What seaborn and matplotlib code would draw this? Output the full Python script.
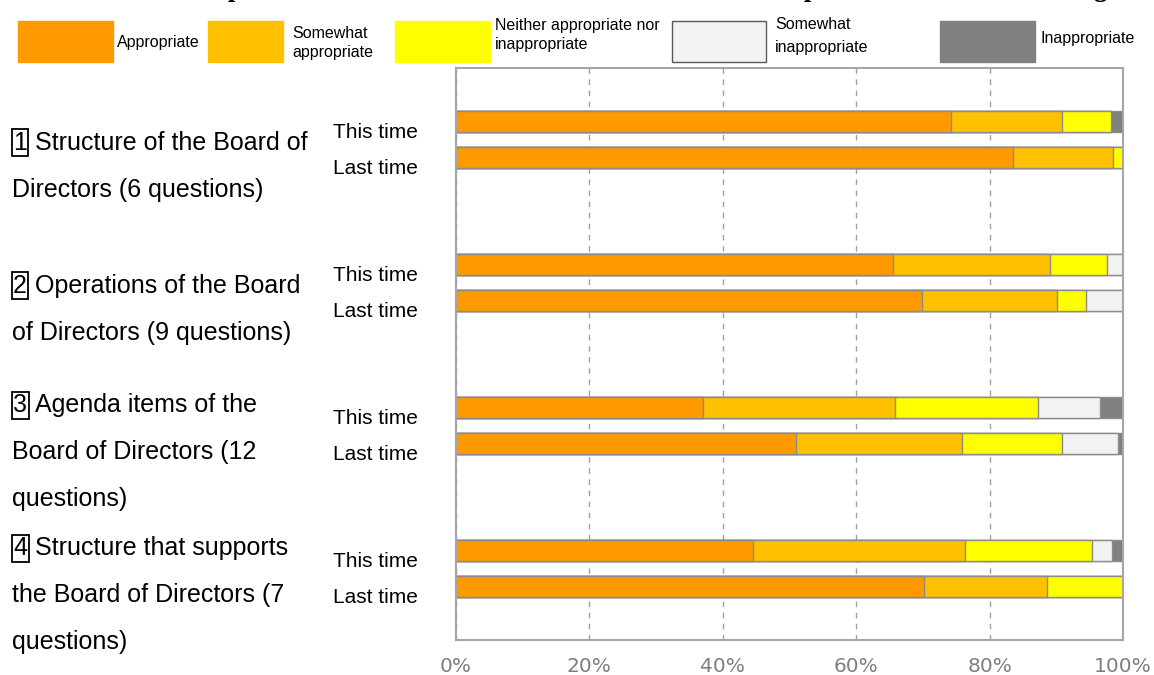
import matplotlib
matplotlib.use("Agg")
import matplotlib.pyplot as plt
from matplotlib import font_manager, transforms
from matplotlib.patches import Rectangle
import numpy as np
import pandas as pd
import seaborn as sns

# ---------------- data ----------------
section_numbers = ["1", "2", "3", "4"]
section_lines = [
    ["Structure of the Board of", "Directors (6 questions)"],
    ["Operations of the Board", "of Directors (9 questions)"],
    ["Agenda items of the", "Board of Directors (12", "questions)"],
    ["Structure that supports", "the Board of Directors (7", "questions)"],
]
periods = ["This time", "Last time"]
response_levels = [
    "Appropriate",
    "Somewhat appropriate",
    "Neither appropriate nor inappropriate",
    "Somewhat inappropriate",
    "Inappropriate",
]
legend_labels = [
    "Appropriate",
    "Somewhat\nappropriate",
    "Neither appropriate nor\ninappropriate",
    "Somewhat\ninappropriate",
    "Inappropriate",
]
# shares (%) per bar, order: 1 this, 1 last, 2 this, 2 last, 3 this, 3 last, 4 this, 4 last
appropriate = [74.2, 83.5, 65.5, 69.8, 37.1, 50.9, 44.6, 70.1]
somewhat_appropriate = [16.7, 15.0, 23.6, 20.3, 28.7, 25.0, 31.7, 18.5]
neither = [7.3, 1.5, 8.5, 4.4, 21.4, 15.0, 19.1, 11.4]
somewhat_inappropriate = [0.0, 0.0, 2.4, 5.5, 9.3, 8.4, 3.0, 0.0]
inappropriate = [1.8, 0.0, 0.0, 0.0, 3.5, 0.7, 1.6, 0.0]
x_ticks = [0, 20, 40, 60, 80, 100]
x_tick_labels = ["0%", "20%", "40%", "60%", "80%", "100%"]
title_text = "[Comparison of evaluation results with last time in four parts of the board meetings]"

level_colors = ["#FF9900", "#FFC000", "#FFFF00", "#F2F2F2", "#808080"]

# ---------------- style ----------------
sns.set_style("white")
installed = {f.name for f in font_manager.fontManager.ttflist}
sans = "Liberation Sans" if "Liberation Sans" in installed else "DejaVu Sans"
if "Liberation Sans Narrow" in installed:
    legend_font, legend_size = "Liberation Sans Narrow", 14
elif "DejaVu Sans Condensed" in installed:
    legend_font, legend_size = "DejaVu Sans Condensed", 11.5
else:
    legend_font, legend_size = sans, 11.5
plt.rcParams["font.family"] = [sans, "DejaVu Sans"]
plt.rcParams["text.color"] = "black"

W, H = 1154, 675
fig = plt.figure(figsize=(W / 100, H / 100), dpi=100)
ax = fig.add_axes([456 / W, 35 / H, 667 / W, 572 / H])

# each section: spacer, this time, last time, spacer
order = []
for s in section_numbers:
    order += [f"{s}-top", f"{s}-{periods[0]}", f"{s}-{periods[1]}", f"{s}-bottom"]
bar_rows = [f"{s}-{p}" for s in section_numbers for p in periods]

shares = np.array([appropriate, somewhat_appropriate, neither,
                   somewhat_inappropriate, inappropriate])
cum = shares.cumsum(axis=0)
records = []
for li, level in enumerate(response_levels):
    for ri, row in enumerate(bar_rows):
        records.append({"row": row, "level": level, "end": cum[li, ri]})
df = pd.DataFrame(records)

# stacked bars: draw cumulative totals from the outermost level inwards
for li in reversed(range(len(response_levels))):
    sub = df[df["level"] == response_levels[li]]
    sns.barplot(data=sub, x="end", y="row", order=order, orient="h",
                color=level_colors[li], saturation=1, width=0.59,
                edgecolor="#8c8c8c", linewidth=1.0, errorbar=None, ax=ax)

ax.set_xlim(0, 100)
ax.set_ylim(len(order) - 0.5, -0.5)
ax.set_xticks(x_ticks, x_tick_labels)
ax.set_yticks([])
ax.set_xlabel("")
ax.set_ylabel("")
ax.tick_params(axis="x", length=0, pad=12, labelsize=14.5, labelcolor="#7f7f7f")
for lab in ax.get_xticklabels():
    lab.set_fontfamily("DejaVu Sans")
ax.set_axisbelow(True)
ax.grid(axis="x", linestyle=(0, (4, 4)), color="#a0a0a0", linewidth=1)
for sp in ax.spines.values():
    sp.set_visible(True)
    sp.set_color("#a6a6a6")
    sp.set_linewidth(1.5)

# ---------------- row and section labels ----------------
fig_x_data_y = transforms.blended_transform_factory(fig.transFigure, ax.transData)
for si, s in enumerate(section_numbers):
    this_pos = order.index(f"{s}-{periods[0]}")
    for pi, p in enumerate(periods):
        fig.text(375 / W, this_pos + pi + 0.3, p, transform=fig_x_data_y,
                 ha="center", va="center", fontsize=15, color="black")
    lines = section_lines[si]
    n = len(lines)
    center = this_pos + 1.25
    for k, line in enumerate(lines):
        y = center + (k - (n - 1) / 2) * 1.31
        if k == 0:
            fig.text(13 / W, y, s, transform=fig_x_data_y, ha="left", va="center",
                     fontsize=18, color="black",
                     bbox=dict(boxstyle="square,pad=0.06", fc="none", ec="black", lw=1.3))
            fig.text(35 / W, y, line, transform=fig_x_data_y, ha="left",
                     va="center", fontsize=18, color="black")
        else:
            fig.text(12 / W, y, line, transform=fig_x_data_y, ha="left",
                     va="center", fontsize=18, color="black")

# ---------------- legend across the top ----------------
legend_boxes = [(18, 113), (208, 283), (395, 490), (672, 766), (940, 1035)]
legend_text_x = [117, 292, 495, 775, 1040]
legend_text_y = [42, 43, 35, 36, 38]
legend_spacing = [1.0, 1.35, 1.3, 1.6, 1.0]
legend_edges = [level_colors[0], level_colors[1], level_colors[2], "#595959", level_colors[4]]
for i, lab in enumerate(legend_labels):
    x0, x1 = legend_boxes[i]
    fig.patches.append(Rectangle((x0 / W, 1 - 62 / H), (x1 - x0) / W, 41 / H,
                                 transform=fig.transFigure, facecolor=level_colors[i],
                                 edgecolor=legend_edges[i], linewidth=1))
    fig.text(legend_text_x[i] / W, 1 - legend_text_y[i] / H, lab,
             ha="left", va="center", fontsize=legend_size, color="black",
             family=[legend_font, "DejaVu Sans"], linespacing=legend_spacing[i])

# ---------------- title (runs off the top edge) ----------------
title = fig.text(645 / W, 1 + 4 / H, title_text, ha="center", va="baseline",
                 family=["Liberation Serif", "DejaVu Serif"], weight="bold",
                 fontsize=16, color="black")
fig.canvas.draw()
bb = title.get_window_extent()
title.set_fontsize(16 * 965 / bb.width)

fig.savefig("out.png", dpi=100)
